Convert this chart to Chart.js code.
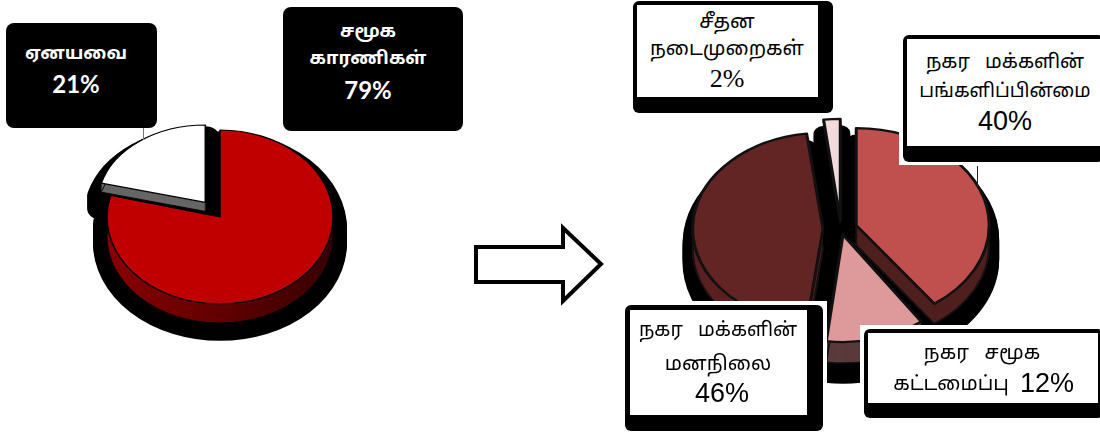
<!DOCTYPE html>
<html lang="ta"><head><meta charset="utf-8">
<script src="https://cdn.jsdelivr.net/npm/chart.js@4"></script>
<style>
html,body{margin:0;padding:0;background:#fff;width:1100px;height:435px;overflow:hidden}
canvas{position:absolute}
.abs{position:absolute}
.line{position:absolute;white-space:pre;transform:translate(-50%,-50%);line-height:1}
.ta{font-family:"Noto Sans Tamil","Noto Sans","DejaVu Sans",sans-serif}
.lat{font-family:"Lato","Liberation Sans",sans-serif}
.sans{font-family:"Liberation Sans",sans-serif}
.pct{font-family:"Liberation Serif",serif}
</style></head><body>
<canvas id="left" width="440" height="434" style="left:0;top:0"></canvas>
<canvas id="right" width="518" height="458" style="left:582px;top:0"></canvas>
<svg class="abs" style="left:0;top:0" width="1100" height="435">
<polygon points="476,247 563,247 563,228 601,264 563,301 563,282 476,282" fill="#fff" stroke="#000" stroke-width="4"/>
</svg>
<div id="labels"></div>
<script>
const leftCategories = [["சமூக","காரணிகள்"],["ஏனயவை"]];
const leftValues = [79, 21];
const rightCategories = [["நகர   மக்களின்","பங்களிப்பின்மை"],["நகர   சமூக","கட்டமைப்பு"],["நகர   மக்களின்","மனநிலை"],["சீதன","நடைமுறைகள்"]];
const rightValues = [40, 12, 46, 2];
const leftColors = ["#C00000","#FFFFFF"];
const rightColors = ["#C0504D","#DE9A9A","#632523","#F2DCDB"];

function pie3d(cfg){
  return {id:'pie3d',beforeDatasetsDraw(chart){
    const ctx=chart.ctx, arcs=chart.getDatasetMeta(0).data, k=cfg.k;
    const cx=arcs[0].x, cy=arcs[0].y;
    function path(a,i,dx,dy,ex){
      const p=a.getProps(['x','y','startAngle','endAngle','outerRadius']);
      const m=(p.startAngle+p.endAngle)/2;
      const ox=p.x+Math.cos(m)*ex+dx, oy=p.y+Math.sin(m)*ex+dy/k;
      const [sx,sy]=cfg.rScale[i];
      ctx.beginPath();ctx.moveTo(ox,oy);
      ctx.ellipse(ox,oy,p.outerRadius*sx,p.outerRadius*sy,0,p.startAngle,p.endAngle);ctx.closePath();
    }
    ctx.save();
    ctx.translate(cx,cy);ctx.scale(1,k);ctx.translate(-cx,-cy);
    ctx.lineJoin='round';
    // black drop shadow
    ctx.fillStyle='#000';ctx.strokeStyle='#000';ctx.lineWidth=cfg.shadowWidth;
    arcs.forEach((a,i)=>{
      for(let d=cfg.shadowFrom;d<=cfg.shadowTo;d+=2){
        path(a,i,cfg.shadowDx,d,cfg.explode[i]);ctx.fill();ctx.stroke();
      }
      path(a,i,0,cfg.baseDy,0);ctx.fill();
    });
    // sides
    arcs.forEach((a,i)=>{
      let fill=cfg.side[i];
      if(Array.isArray(fill)){
        const g=ctx.createLinearGradient(cx-a.outerRadius,0,cx+a.outerRadius,0);
        g.addColorStop(0,fill[0]);g.addColorStop(1,fill[1]);fill=g;
      }
      ctx.fillStyle=fill;
      for(let d=cfg.depth[i];d>=1;d--){path(a,i,0,d,cfg.explode[i]);ctx.fill();}
      ctx.strokeStyle=cfg.edge;ctx.lineWidth=cfg.edgeWidth;
      path(a,i,0,cfg.depth[i],cfg.explode[i]);ctx.stroke();
    });
    // tops
    arcs.forEach((a,i)=>{
      path(a,i,0,0,cfg.explode[i]);
      ctx.fillStyle=a.options.backgroundColor;ctx.fill();
      ctx.strokeStyle=a.options.borderColor;ctx.lineWidth=a.options.borderWidth;ctx.stroke();
    });
    ctx.restore();
    return false;
  }};
}
function make(id,labels,values,colors,radius,borderColor,borderWidth,cfg){
  new Chart(document.getElementById(id),{type:'pie',
    data:{labels:labels.map(l=>l.join(' ')),datasets:[{data:values,backgroundColor:colors,borderColor,borderWidth}]},
    options:{responsive:false,animation:false,radius,layout:{padding:0},
      plugins:{legend:{display:false},tooltip:{enabled:false}}},
    plugins:[pie3d(cfg)]});
}
make('left',leftCategories,leftValues,leftColors,113,'#000',1.5,{
  k:.77,explode:[0,24],rScale:[[1,1],[.95,.89]],depth:[19,9],side:[["#8a0000","#380000"],"#666666"],
  shadowFrom:12,shadowTo:27,shadowDx:0,shadowWidth:28,baseDy:10,edge:'#000',edgeWidth:1});
make('right',rightCategories,rightValues,rightColors,133,'#111',3,{
  k:.76,explode:[16,8,18,12],rScale:[[1,.96],[1,1.06],[.98,.95],[1,1]],depth:[20,21,20,2],side:["#4f1f1d","#5a3a3a","#5a201f","#777"],
  shadowFrom:14,shadowTo:34,shadowDx:0,shadowWidth:20,baseDy:9,edge:'#111',edgeWidth:2});

// callout boxes
const holder=document.getElementById('labels');
function rect(x0,y0,x1,y1,bg,r){
  const d=document.createElement('div');d.className='abs';
  d.style.cssText=`left:${x0}px;top:${y0}px;width:${x1-x0}px;height:${y1-y0}px;background:${bg};border-radius:${r||0}px`;
  holder.appendChild(d);
}
function text(t,x,y,cls,size,color,weight){
  const d=document.createElement('div');d.className='line '+cls;d.textContent=t;
  d.style.cssText=`left:${x}px;top:${y}px;font-size:${size}px;color:${color};font-weight:${weight||400}`;
  holder.appendChild(d);
}
// leader lines
rect(143,128,144,140,'#777');
// black boxes on the left
rect(6,23,157,128,'#000',8);
text(leftCategories[1][0],76,55,'ta',18,'#fff',700);
text(leftValues[1]+'%',76,84,'lat',24,'#fff',700);
rect(283,7,463,131,'#000',8);
text(leftCategories[0][0],368,33,'ta',18,'#fff',700);
text(leftCategories[0][1],368,60,'ta',18,'#fff',700);
text(leftValues[0]+'%',368,90,'lat',24,'#fff',700);
// white boxes on the right
rect(633,1,833,113,'#000',6);rect(637,5,818,97,'#fff');
text(rightCategories[3][0],727,23,'ta',20,'#000');
text(rightCategories[3][1],727,50,'ta',20,'#000');
text(rightValues[3]+'%',727,79,'pct',26,'#000');
rect(899,0,1100,165,'#fff');rect(903,35,1104,162,'#000',6);rect(907,39,1100,146,'#fff');
text(rightCategories[0][0],1005,64,'ta',19.5,'#000');
text(rightCategories[0][1],1005,92,'ta',19,'#000');
text(rightValues[0]+'%',1005,121,'sans',27,'#000');
rect(977,166,978,187,'#222');
rect(621,301,827,435,'#fff');rect(625,305,823,431,'#000',6);rect(630,310,807,415,'#fff');
text(rightCategories[2][0],718,332,'ta',19.5,'#000');
text(rightCategories[2][1],718,365,'ta',20,'#000');
text(rightValues[2]+'%',722,393,'sans',27,'#000');
rect(860,325,1100,435,'#fff');rect(864,329,1104,418,'#000',6);rect(868,333,1098,403,'#fff');
text(rightCategories[1][0],982,354,'ta',20,'#000');
text(rightCategories[1][1],951,385,'ta',20,'#000');
text(rightValues[1]+'%',1047,383,'sans',27,'#000');
</script>
</body></html>
